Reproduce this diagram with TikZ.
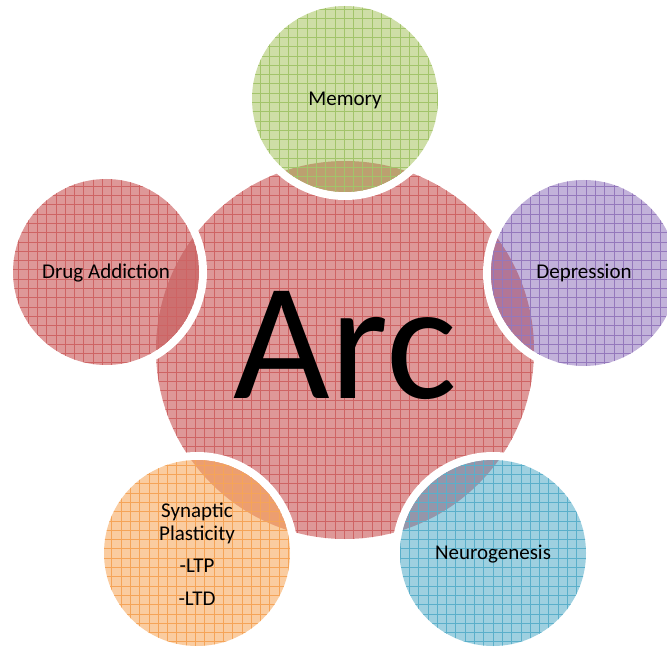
\documentclass[tikz,border=0pt]{standalone}
\usepackage{fontspec}
\setmainfont{Carlito}
\usepackage{xcolor}
\usetikzlibrary{positioning}

\definecolor{arcfill}{RGB}{222,152,152}
\definecolor{arcline}{RGB}{206,100,100}
\definecolor{memfill}{RGB}{206,222,166}
\definecolor{memline}{RGB}{162,196,106}
\definecolor{memover}{RGB}{188,160,112}
\definecolor{depfill}{RGB}{194,178,218}
\definecolor{depline}{RGB}{148,120,188}
\definecolor{depover}{RGB}{178,118,150}
\definecolor{neufill}{RGB}{158,208,224}
\definecolor{neuline}{RGB}{90,175,202}
\definecolor{neuover}{RGB}{148,150,170}
\definecolor{synfill}{RGB}{250,204,160}
\definecolor{synline}{RGB}{245,164,88}
\definecolor{synover}{RGB}{236,158,112}
\definecolor{drugover}{RGB}{205,112,112}

\tikzset{
  gridlines/.style={line width=0.55pt, step=9.3pt},
  label/.style={font=\fontsize{21}{25}\selectfont, anchor=base, inner sep=0pt}
}

% satellite: x, y, fill, line, overlap
\newcommand{\bubble}[5]{%
  \draw[white, line width=8pt] (#1,#2) circle[radius=97pt];
  \fill[#3] (#1,#2) circle[radius=93pt];
  \begin{scope}
    \clip (#1,#2) circle[radius=93pt];
    \clip (345,350) circle[radius=189pt];
    \fill[#5] (#1,#2) circle[radius=93pt];
  \end{scope}
  \begin{scope}
    \clip (#1,#2) circle[radius=93pt];
    \draw[#4, gridlines] (0,0) grid (667,647);
  \end{scope}
}

\begin{document}
\begin{tikzpicture}[x=1pt,y=-1pt]
\useasboundingbox (0,0) rectangle (667,647);

% central circle
\fill[arcfill] (345,350) circle[radius=189pt];
\begin{scope}
  \clip (345,350) circle[radius=189pt];
  \draw[arcline, gridlines] (0,0) grid (667,647);
\end{scope}

% satellites
\bubble{345}{99}{memfill}{memline}{memover}
\bubble{584}{273}{depfill}{depline}{depover}
\bubble{493}{553}{neufill}{neuline}{neuover}
\bubble{197}{553}{synfill}{synline}{synover}
\bubble{106}{272}{arcfill}{arcline}{drugover}

% labels
\node[label, font=\fontsize{167}{170}\selectfont] (arc) at (345,398) {Arc};
\node[label] (memory) at (345,106) {Memory};
\node[label] (depression) at (584,279) {Depression};
\node[label] (neurogenesis) at (493,559) {Neurogenesis};
\node[label] (drug) at (106,279) {Drug Addiction};
\node[label] (synaptic) at (197,517) {Synaptic};
\node[label] (plasticity) at (197,540) {Plasticity};
\node[label] (ltp) at (197,572) {-LTP};
\node[label] (ltd) at (197,605) {-LTD};

\end{tikzpicture}
\end{document}
